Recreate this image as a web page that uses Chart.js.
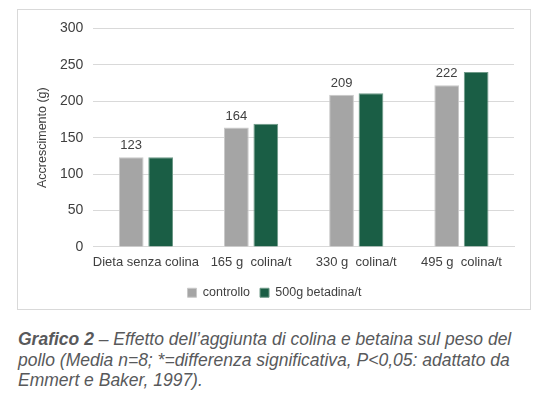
<!DOCTYPE html>
<html>
<head>
<meta charset="utf-8">
<script src="https://cdn.jsdelivr.net/npm/chart.js@4.4.0/dist/chart.umd.min.js"></script>
<style>
  body { margin: 0; background: #fff; width: 540px; height: 396px; overflow: hidden; }
  #box { position: absolute; left: 17px; top: 9px; width: 514px; height: 301px; border: 1px solid #d9d9d9; box-sizing: border-box; }
  #caption { position: absolute; left: 18px; top: 329px; width: 530px; white-space: nowrap; font-family: "Liberation Sans", Arial, sans-serif; font-size: 17.5px; font-style: italic; line-height: 20.5px; color: #58595b; }
  #caption b { font-weight: bold; }
</style>
</head>
<body>
<div id="box"><canvas id="chart"></canvas></div>
<div id="caption"><b>Grafico 2</b> – Effetto dell’aggiunta di colina e betaina sul peso del<br>pollo (Media n=8; *=differenza significativa, P&lt;0,05: adattato da<br>Emmert e Baker, 1997).</div>

<script>
// data
const categories = ["Dieta senza colina", "165 g  colina/t", "330 g  colina/t", "495 g  colina/t"];
const controllo = [123, 164, 209, 222];
const betaina = [123, 169, 211, 240];
const yTicks = [0, 50, 100, 150, 200, 250, 300];

const tickFont = { family: "Liberation Sans, Arial, sans-serif", size: 13 };

// write values above the grey bars only
const valueLabels = {
  id: "valueLabels",
  afterDatasetsDraw(chart) {
    const ctx = chart.ctx;
    const meta = chart.getDatasetMeta(0);
    ctx.save();
    ctx.font = "13px Liberation Sans, Arial, sans-serif";
    ctx.fillStyle = "#404040";
    ctx.textAlign = "center";
    ctx.textBaseline = "bottom";
    meta.data.forEach((bar, i) => {
      ctx.fillText(controllo[i], bar.x, bar.y - 5);
    });
    ctx.restore();
  }
};

const ctx = document.getElementById("chart").getContext("2d");
new Chart(ctx, {
  type: "bar",
  data: {
    labels: categories,
    datasets: [
      {
        label: "controllo",
        data: controllo,
        backgroundColor: "#a5a5a5",
        borderColor: "#c9c9c9",
        borderWidth: 1,
        categoryPercentage: 0.56,
        barPercentage: 0.84,
      },
      {
        label: "500g betadina/t",
        data: betaina,
        backgroundColor: "#1a5e45",
        borderColor: "#6f9a88",
        borderWidth: 1,
        categoryPercentage: 0.56,
        barPercentage: 0.84,
      },
    ],
  },
  options: {
    responsive: true,
    maintainAspectRatio: false,
    animation: false,
    layout: { padding: { left: 17, right: 16, top: 10, bottom: 0 } },
    plugins: {
      legend: {
        position: "bottom",
        labels: {
          boxWidth: 9,
          boxHeight: 9,
          padding: 10,
          color: "#404040",
          font: { family: "Liberation Sans, Arial, sans-serif", size: 12.5 },
        },
      },
      tooltip: { enabled: false },
    },
    scales: {
      x: {
        grid: { display: false },
        border: { color: "#d9d9d9" },
        ticks: { color: "#404040", font: tickFont, maxRotation: 0, autoSkip: false, padding: 0 },
        afterFit: (scale) => { scale.height += 6; },
      },
      y: {
        min: yTicks[0],
        max: yTicks[yTicks.length - 1],
        border: { display: false },
        grid: { color: "#d9d9d9", drawTicks: false },
        ticks: { stepSize: 50, color: "#404040", font: { family: "Liberation Sans, Arial, sans-serif", size: 14 }, padding: 10 },
        title: {
          display: true,
          text: "Accrescimento (g)",
          color: "#404040",
          font: { family: "Liberation Sans, Arial, sans-serif", size: 12.5 },
          padding: 0,
        },
      },
    },
  },
  plugins: [valueLabels],
});
</script>
</body>
</html>
